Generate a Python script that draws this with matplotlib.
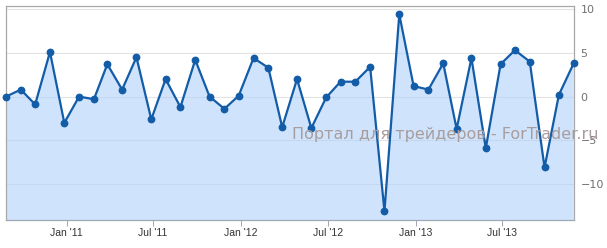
import numpy as np
import pandas as pd
import matplotlib
matplotlib.use('Agg')
from matplotlib import pyplot as plt
import matplotlib.dates as mdates

# monthly values, Jul 2010 .. Oct 2013
dates = pd.date_range('2010-07-27', periods=40, freq='MS') + pd.Timedelta(days=26)
values = [0.0, 0.8, -0.9, 5.1, -3.0, 0.0, -0.3, 3.7, 0.8, 4.5,
          -2.6, 2.0, -1.2, 4.2, 0.0, -1.4, 0.1, 4.4, 3.3, -3.5,
          2.0, -3.6, -0.1, 1.7, 1.7, 3.4, -13.1, 9.4, 1.2, 0.8,
          3.8, -3.7, 4.4, -5.9, 3.7, 5.3, 4.0, -8.1, 0.2, 3.8]
ytick_vals = [-10, -5, 0, 5, 10]
xtick_dates = pd.to_datetime(['2011-01-01', '2011-07-01', '2012-01-01',
                              '2012-07-01', '2013-01-01', '2013-07-01'])
xtick_labels = ["Jan '11", "Jul '11", "Jan '12", "Jul '12", "Jan '13", "Jul '13"]
watermark = 'Портал для трейдеров - ForTrader.ru'

W, H = 607, 248
fig = plt.figure(figsize=(W / 100, H / 100), dpi=100)
ax = fig.add_axes([6 / W, 1 - 220 / H, 567.7 / W, 214 / H])

ax.set_axisbelow(True)
ax.grid(axis='y', color='#e3e3e3', linewidth=0.8)
ax.fill_between(dates, values, -20, color='#b0d2fa', alpha=0.6, linewidth=0, zorder=2)
ax.plot(dates, values, color='#135ca8', linewidth=1.6, marker='o',
        markersize=4.6, zorder=3, clip_on=False)

ax.set_xlim(dates[0], dates[-1])
ax.set_ylim(-14.1, 10.35)

ax.set_xticks(xtick_dates)
ax.set_xticklabels(xtick_labels)
ax.set_yticks(ytick_vals)
ax.set_yticklabels([str(v).replace('-', '\u2212') for v in ytick_vals])
ax.yaxis.tick_right()
ax.tick_params(axis='x', direction='out', length=4, width=0.7, color='#a0a8b8',
               labelsize=7.5, labelcolor='#333333', pad=2)
ax.tick_params(axis='y', length=0, labelsize=8, labelcolor='#707070', pad=5)
for lab in ax.get_xticklabels():
    lab.set_fontfamily('Liberation Sans')

for s in ax.spines.values():
    s.set_color('#a8a8a8')
    s.set_linewidth(0.9)
ax.spines['bottom'].set_color('#a0a8b8')

fig.text(291.7 / W, 1 - 135 / H, watermark, fontsize=11.5, color='#a89c9c',
         va='center', ha='left', family='DejaVu Sans', zorder=5)

fig.savefig('out.png', dpi=100)
